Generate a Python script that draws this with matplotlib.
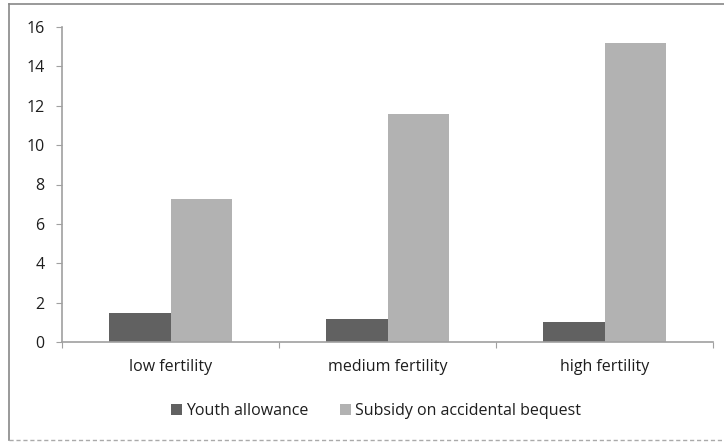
import matplotlib.pyplot as plt
import numpy as np
from matplotlib.lines import Line2D

categories = ["low fertility", "medium fertility", "high fertility"]
youth_allowance = [1.45, 1.15, 1.0]
subsidy_bequest = [7.25, 11.6, 15.2]
series_names = ["Youth allowance", "Subsidy on accidental bequest"]

plt.rcParams["font.family"] = ["Open Sans", "DejaVu Sans"]
plt.rcParams["font.size"] = 11.5
plt.rcParams["text.color"] = "#1e1e1e"
plt.rcParams["xtick.color"] = "#1e1e1e"
plt.rcParams["ytick.color"] = "#1e1e1e"

fig = plt.figure(figsize=(7.24, 4.42), dpi=100)
ax = fig.add_axes([62 / 724, 1 - 342 / 442, (713 - 62) / 724, (342 - 27) / 442])

x = np.arange(len(categories))
w = 0.2857
ax.bar(x - w / 2, youth_allowance, w, color="#616161", label=series_names[0])
ax.bar(x + w / 2, subsidy_bequest, w, color="#b2b2b2", label=series_names[1])

ax.set_xlim(-0.5, len(categories) - 0.5)
ax.set_ylim(0, 16)
ax.set_yticks(np.arange(0, 17, 2))

# tick marks at category boundaries, labels at centres
ax.set_xticks(np.arange(-0.5, len(categories), 1))
ax.set_xticklabels([])
ax.set_xticks(x, minor=True)
ax.set_xticklabels(categories, minor=True)
ax.tick_params(axis="x", which="minor", length=0, pad=12)
ax.tick_params(axis="x", which="major", length=4.5, color="#a0a0a0")
ax.tick_params(axis="y", length=4.5, color="#a0a0a0", pad=8)

for s in ["top", "right"]:
    ax.spines[s].set_visible(False)
for s in ["left", "bottom"]:
    ax.spines[s].set_color("#a0a0a0")
    ax.spines[s].set_linewidth(1.2)

fig.legend(loc="center", bbox_to_anchor=(376 / 724, 1 - 411 / 442), ncol=2,
           frameon=False, handlelength=0.7, handleheight=0.7, handletextpad=0.25,
           columnspacing=2.0)

# chart area border
fig.add_artist(Line2D([9 / 724, 1], [1 - 4 / 442, 1 - 4 / 442], color="#888888", lw=1.2))
fig.add_artist(Line2D([9 / 724, 9 / 724], [1 - 4 / 442, 1 - 440 / 442], color="#888888", lw=1.2))
fig.add_artist(Line2D([9 / 724, 1], [1 - 440 / 442, 1 - 440 / 442], color="#aaaaaa", lw=1, ls=(0, (3, 2))))

fig.savefig("out.png", dpi=100)
